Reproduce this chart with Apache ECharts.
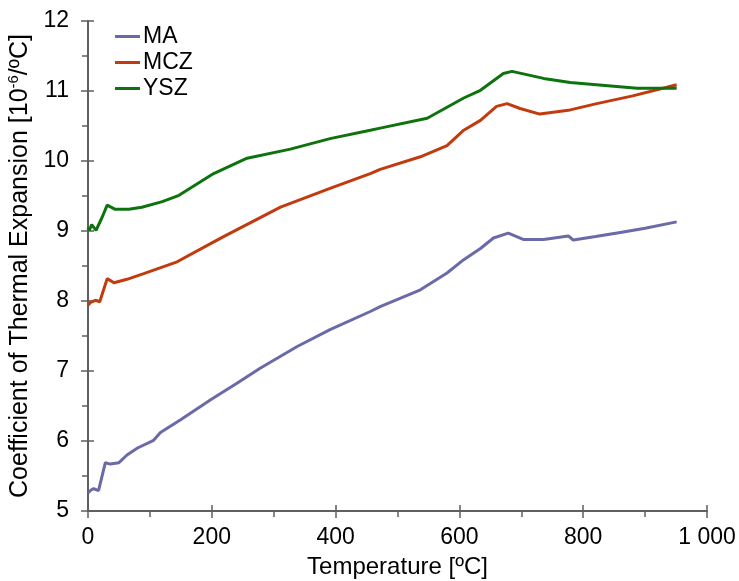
<!DOCTYPE html>
<html>
<head>
<meta charset="utf-8">
<script src="https://cdn.jsdelivr.net/npm/echarts@6.0.0/dist/echarts.min.js"></script>
<style>
  html, body { margin: 0; padding: 0; background: #fff; }
  #chart { width: 739px; height: 581px; }
</style>
</head>
<body>
<div id="chart"></div>
<script>
// values: temperature [ºC] and CTE [10^-6/ºC]
var maTemp = [0, 5, 9, 17, 28, 36, 50, 63, 80, 106, 117, 149, 200, 240, 278, 338, 391, 456, 472, 537, 580, 607, 634, 655, 679, 703, 736, 776, 780, 784, 820, 860, 900, 951];
var maCte = [5.26, 5.30, 5.32, 5.29, 5.69, 5.67, 5.69, 5.80, 5.90, 6.01, 6.12, 6.30, 6.60, 6.82, 7.04, 7.35, 7.59, 7.85, 7.92, 8.16, 8.40, 8.59, 8.75, 8.90, 8.97, 8.88, 8.88, 8.93, 8.90, 8.87, 8.92, 8.98, 9.04, 9.13];

var mczTemp = [0, 4, 12, 19, 31, 42, 63, 90, 144, 198, 219, 311, 391, 456, 472, 537, 580, 607, 634, 660, 677, 698, 730, 779, 822, 880, 951];
var mczCte = [7.94, 7.98, 8.01, 7.99, 8.32, 8.26, 8.31, 8.39, 8.56, 8.82, 8.92, 9.34, 9.61, 9.82, 9.88, 10.06, 10.22, 10.44, 10.58, 10.78, 10.82, 10.75, 10.67, 10.73, 10.82, 10.93, 11.09];

var yszTemp = [0, 2, 6, 13, 23, 31, 34, 44, 66, 87, 120, 147, 174, 203, 257, 327, 391, 456, 472, 548, 607, 634, 671, 685, 736, 779, 887, 951];
var yszCte = [9.05, 9.01, 9.09, 9.01, 9.20, 9.37, 9.37, 9.31, 9.31, 9.34, 9.42, 9.51, 9.66, 9.82, 10.04, 10.17, 10.32, 10.44, 10.47, 10.61, 10.90, 11.01, 11.25, 11.28, 11.18, 11.12, 11.04, 11.04];

var seriesNames = ["MA", "MCZ", "YSZ"];
var seriesColors = ["#6a6aa8", "#c23b0e", "#0e730e"];

function pairs(xs, ys) {
  var out = [];
  for (var i = 0; i < xs.length; i++) out.push([xs[i], ys[i]]);
  return out;
}

var FONT = "'Liberation Sans', Arial, sans-serif";
var AXIS_COLOR = "#5f5f5f";

var chart = echarts.init(document.getElementById("chart"));

var xBase = { type: "value", min: 0, max: 1000, interval: 200, gridIndex: 0, position: "bottom" };
var yBase = { type: "value", min: 5, max: 12, interval: 1, gridIndex: 0, position: "left" };

var option = {
  backgroundColor: "#fff",
  animation: false,
  textStyle: { fontFamily: FONT },
  grid: { left: 88, right: 32, top: 21, bottom: 70, outerBoundsMode: "none", containLabel: false },
  legend: {
    orient: "vertical",
    left: 110,
    top: 20,
    icon: "rect",
    itemWidth: 25,
    itemHeight: 3,
    itemGap: 3,
    textStyle: { fontSize: 23, color: "#000", fontFamily: FONT, padding: [0, 0, 0, -2] },
    data: seriesNames
  },
  xAxis: [
    Object.assign({}, xBase, {
      name: "Temperature [ºC]",
      nameLocation: "middle",
      nameGap: 44,
      nameTextStyle: { fontSize: 24, color: "#000", fontFamily: FONT },
      axisLine: { show: true, lineStyle: { color: AXIS_COLOR, width: 2 } },
      axisTick: { show: true, length: 7, lineStyle: { color: AXIS_COLOR, width: 1.5 } },
      minorTick: { show: true, splitNumber: 2, length: 6, lineStyle: { color: AXIS_COLOR, width: 1.5 } },
      axisLabel: {
        fontSize: 23, color: "#000", margin: 15, fontFamily: FONT,
        formatter: function (v) { return v >= 1000 ? String(v).replace(/\B(?=(\d{3})+(?!\d))/g, " ") : String(v); }
      },
      splitLine: { show: false }
    }),
    Object.assign({}, xBase, {
      axisLine: { show: false },
      axisTick: { show: true, inside: true, length: 6, lineStyle: { color: AXIS_COLOR, width: 1.5 } },
      axisLabel: { show: false },
      splitLine: { show: false }
    })
  ],
  yAxis: [
    Object.assign({}, yBase, {
      name: "{a|Coefficient of Thermal Expansion [10}{s|-6}{a|/ºC]}",
      nameLocation: "middle",
      nameGap: 43,
      nameRotate: 90,
      nameTextStyle: {
        color: "#000",
        rich: {
          a: { fontSize: 25, color: "#000", fontFamily: FONT, lineHeight: 28 },
          s: { fontSize: 15, color: "#000", fontFamily: FONT, verticalAlign: "top", lineHeight: 28 }
        }
      },
      axisLine: { show: true, lineStyle: { color: AXIS_COLOR, width: 2 } },
      axisTick: { show: true, length: 7, lineStyle: { color: AXIS_COLOR, width: 1.5 } },
      minorTick: { show: true, splitNumber: 2, length: 6, lineStyle: { color: AXIS_COLOR, width: 1.5 } },
      axisLabel: { fontSize: 23, color: "#000", margin: 19, fontFamily: FONT },
      splitLine: { show: false }
    }),
    Object.assign({}, yBase, {
      axisLine: { show: false },
      axisTick: { show: true, inside: true, length: 6, lineStyle: { color: AXIS_COLOR, width: 1.5 } },
      axisLabel: { show: false },
      splitLine: { show: false }
    })
  ],
  series: [
    { name: seriesNames[0], type: "line", data: pairs(maTemp, maCte) },
    { name: seriesNames[1], type: "line", data: pairs(mczTemp, mczCte) },
    { name: seriesNames[2], type: "line", data: pairs(yszTemp, yszCte) }
  ].map(function (s, i) {
    s.xAxisIndex = 0;
    s.yAxisIndex = 0;
    s.symbol = "none";
    s.smooth = false;
    s.color = seriesColors[i];
    s.lineStyle = { width: 3, color: seriesColors[i] };
    return s;
  })
};

chart.setOption(option);
</script>
</body>
</html>
